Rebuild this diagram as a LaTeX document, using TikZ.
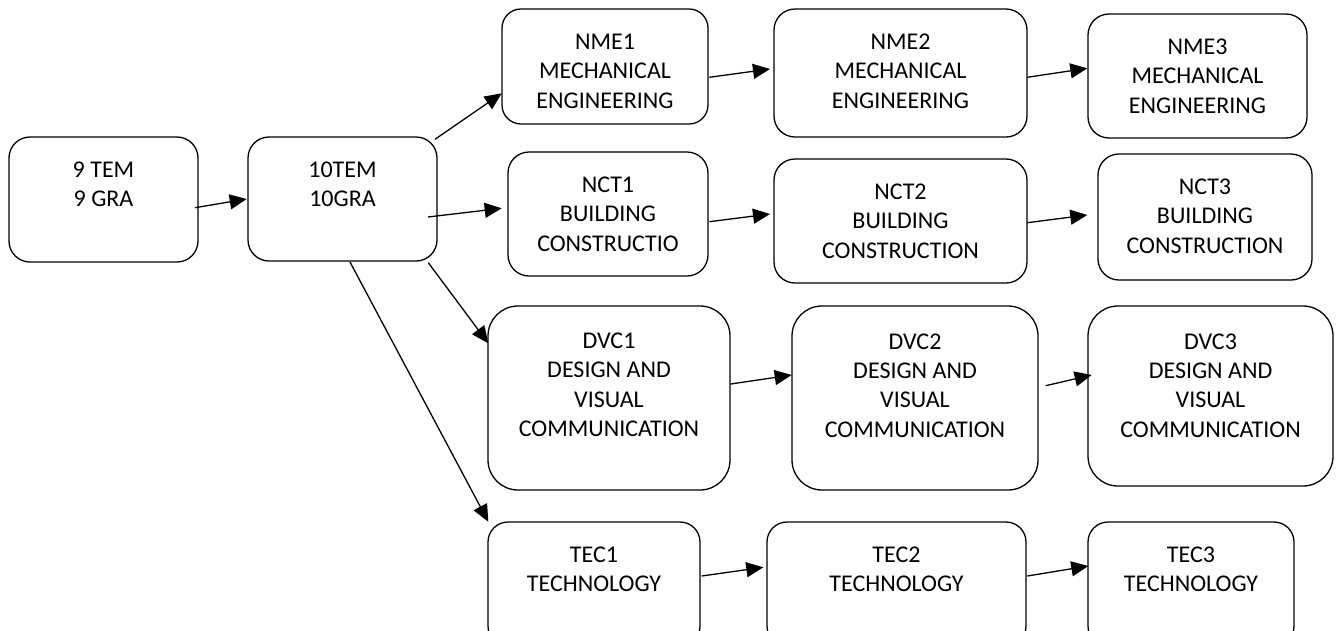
\documentclass[tikz,border=0pt]{standalone}
\usepackage{fontspec}
\setmainfont{Carlito}
\usetikzlibrary{calc,arrows.meta}
\newcommand\txtlines[1]{\begin{tabular}[t]{@{}c@{}}#1\end{tabular}}
\begin{document}
\begin{tikzpicture}[x=1pt,y=-1pt,
  box/.style={draw=black, line width=1.3pt, rectangle, inner sep=0pt, outer sep=0pt, rounded corners=21pt},
  bigbox/.style={box, rounded corners=30pt},
  txt/.style={inner sep=0pt, anchor=base, text=black, font=\fontsize{24}{29.3}\selectfont},
  arr/.style={line width=1.3pt, draw=black, -{Triangle[length=17pt,width=15pt]}}]
\useasboundingbox (0,0) rectangle (1343,630);
\clip (0,0) rectangle (1343,630);
\fill[white] (0,0) rectangle (1343,630);
% boxes
\node[box, minimum width=189, minimum height=125] (b9)  at (103.5,199.5) {};
\node[box, minimum width=189, minimum height=124] (b10) at (342.5,199) {};
\node[box, minimum width=206, minimum height=115, rounded corners=19pt] (nme1) at (605,66.5) {};
\node[box, minimum width=253, minimum height=128] (nme2) at (900.5,73) {};
\node[box, minimum width=219, minimum height=124] (nme3) at (1197.5,76) {};
\node[box, minimum width=200, minimum height=124] (nct1) at (608,214) {};
\node[box, minimum width=253, minimum height=124] (nct2) at (900.5,221) {};
\node[box, minimum width=214, minimum height=126] (nct3) at (1205,217) {};
\node[bigbox, minimum width=242, minimum height=184] (dvc1) at (609,398) {};
\node[bigbox, minimum width=246, minimum height=184] (dvc2) at (915,398) {};
\node[bigbox, minimum width=245, minimum height=180] (dvc3) at (1210.5,396) {};
\node[box, minimum width=212, minimum height=124, rounded corners=20pt] (tec1) at (594,584) {};
\node[box, minimum width=259, minimum height=124, rounded corners=20pt] (tec2) at (896.5,584) {};
\node[box, minimum width=206, minimum height=124, rounded corners=20pt] (tec3) at (1191,584) {};
% texts
\node[txt] (t9)    at ($(b9.north)+(0,40.6)$)   {\txtlines{9 TEM\\9 GRA}};
\node[txt] (t10)   at ($(b10.north)+(0,40.6)$)  {\txtlines{10TEM\\10GRA}};
\node[txt] (tnme1) at ($(nme1.north)+(0,40.6)$) {\txtlines{NME1\\MECHANICAL\\ENGINEERING}};
\node[txt] (tnme2) at ($(nme2.north)+(0,40.6)$) {\txtlines{NME2\\MECHANICAL\\ENGINEERING}};
\node[txt] (tnme3) at ($(nme3.north)+(0,40.6)$) {\txtlines{NME3\\MECHANICAL\\ENGINEERING}};
\node[txt] (tnct1) at ($(nct1.north)+(0,40.6)$) {\txtlines{NCT1\\BUILDING\\CONSTRUCTIO}};
\node[txt] (tnct2) at ($(nct2.north)+(0,40.6)$) {\txtlines{NCT2\\BUILDING\\CONSTRUCTION}};
\node[txt] (tnct3) at ($(nct3.north)+(0,40.6)$) {\txtlines{NCT3\\BUILDING\\CONSTRUCTION}};
\node[txt] (tdvc1) at ($(dvc1.north)+(0,42.6)$) {\txtlines{DVC1\\DESIGN AND\\VISUAL\\COMMUNICATION}};
\node[txt] (tdvc2) at ($(dvc2.north)+(0,43.3)$) {\txtlines{DVC2\\DESIGN AND\\VISUAL\\COMMUNICATION}};
\node[txt] (tdvc3) at ($(dvc3.north)+(0,43.3)$) {\txtlines{DVC3\\DESIGN AND\\VISUAL\\COMMUNICATION}};
\node[txt] (ttec1) at ($(tec1.north)+(0,40.2)$) {\txtlines{TEC1\\TECHNOLOGY}};
\node[txt] (ttec2) at ($(tec2.north)+(0,40.6)$) {\txtlines{TEC2\\TECHNOLOGY}};
\node[txt] (ttec3) at ($(tec3.north)+(0,40.6)$) {\txtlines{TEC3\\TECHNOLOGY}};
% connectors
\draw[arr] ($(b9.east)+(-3,8.2)$) -- ($(b10.west)+(-1.3,0)$);
\draw[arr] ($(b10.north east)+(-2,2.3)$) -- ($(nme1.south west)+(-0.3,-30.7)$);
\draw[arr] ($(b10.east)+(-9,18)$) -- ($(nct1.west)+(-6.3,-5.7)$);
\draw[arr] ($(b10.south east)+(-8.7,1.7)$) -- ($(dvc1.north west)+(0.3,37.3)$);
\draw[arr] ($(b10.south)+(7.5,1)$) -- ($(tec1.north west)+(0.3,-0.3)$);
\draw[arr] ($(nme1.east)+(1.3,10.8)$) -- ($(nme2.west)+(-4,-4)$);
\draw[arr] ($(nme2.east)+(0.3,4.3)$) -- ($(nme3.west)+(-0.7,-7.7)$);
\draw[arr] ($(nct1.east)+(1.3,7.7)$) -- ($(nct2.west)+(-4,-7)$);
\draw[arr] ($(nct2.east)+(0.3,1.7)$) -- ($(nct3.west)+(-10.7,-2)$);
\draw[arr] ($(dvc1.east)+(0.7,-14)$) -- ($(dvc2.west)+(-0.3,-23)$);
\draw[arr] ($(dvc2.east)+(7.7,-12.3)$) -- ($(dvc3.west)+(3.7,-21)$);
\draw[arr] ($(tec1.east)+(1.7,-8)$) -- ($(tec2.west)+(-3.7,-16.7)$);
\draw[arr] ($(tec2.east)+(1.3,-8)$) -- ($(tec3.west)+(0.3,-18)$);
\end{tikzpicture}
\end{document}
